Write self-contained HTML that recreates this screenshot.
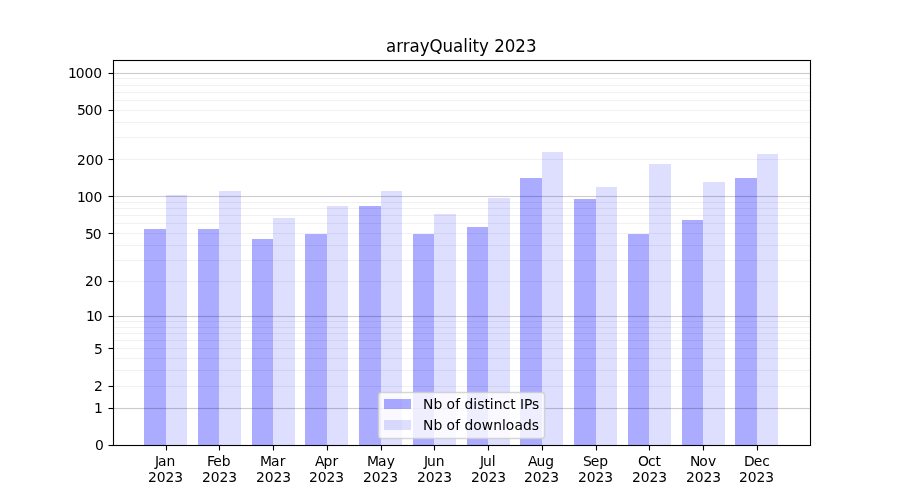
<!DOCTYPE html>
<html lang="en">
<head>
<meta charset="utf-8">
<title>arrayQuality 2023</title>
<style>
html,body{margin:0;padding:0;background:#fff;}
body{width:900px;height:500px;overflow:hidden;}
svg{display:block;}
text{font-family:"DejaVu Sans","Liberation Sans",sans-serif;fill:#000;}
.t{font-size:13.889px;}
.h{font-size:16.667px;}
.c{shape-rendering:crispEdges;}
</style>
</head>
<body>
<svg width="900" height="500" viewBox="0 0 900 500">
<rect x="0" y="0" width="900" height="500" fill="#ffffff"/>
<g class="c">
<rect x="144" y="229" width="22" height="216" fill="#ababff"/>
<rect x="166" y="195" width="21" height="250" fill="#dedeff"/>
<rect x="198" y="229" width="21" height="216" fill="#ababff"/>
<rect x="219" y="191" width="22" height="254" fill="#dedeff"/>
<rect x="252" y="239" width="21" height="206" fill="#ababff"/>
<rect x="273" y="218" width="22" height="227" fill="#dedeff"/>
<rect x="305" y="234" width="22" height="211" fill="#ababff"/>
<rect x="327" y="206" width="21" height="239" fill="#dedeff"/>
<rect x="359" y="206" width="22" height="239" fill="#ababff"/>
<rect x="381" y="191" width="21" height="254" fill="#dedeff"/>
<rect x="413" y="234" width="21" height="211" fill="#ababff"/>
<rect x="434" y="214" width="22" height="231" fill="#dedeff"/>
<rect x="467" y="227" width="21" height="218" fill="#ababff"/>
<rect x="488" y="198" width="22" height="247" fill="#dedeff"/>
<rect x="520" y="178" width="22" height="267" fill="#ababff"/>
<rect x="542" y="152" width="21" height="293" fill="#dedeff"/>
<rect x="574" y="199" width="22" height="246" fill="#ababff"/>
<rect x="596" y="187" width="21" height="258" fill="#dedeff"/>
<rect x="628" y="234" width="21" height="211" fill="#ababff"/>
<rect x="649" y="164" width="22" height="281" fill="#dedeff"/>
<rect x="682" y="220" width="21" height="225" fill="#ababff"/>
<rect x="703" y="182" width="22" height="263" fill="#dedeff"/>
<rect x="735" y="178" width="22" height="267" fill="#ababff"/>
<rect x="757" y="154" width="21" height="291" fill="#dedeff"/>
</g>
<g class="c">
<rect x="113" y="386" width="697" height="1" fill="#000" fill-opacity="0.055"/>
<rect x="113" y="370" width="697" height="1" fill="#000" fill-opacity="0.055"/>
<rect x="113" y="358" width="697" height="1" fill="#000" fill-opacity="0.055"/>
<rect x="113" y="348" width="697" height="1" fill="#000" fill-opacity="0.055"/>
<rect x="113" y="340" width="697" height="1" fill="#000" fill-opacity="0.055"/>
<rect x="113" y="333" width="697" height="1" fill="#000" fill-opacity="0.055"/>
<rect x="113" y="327" width="697" height="1" fill="#000" fill-opacity="0.055"/>
<rect x="113" y="321" width="697" height="1" fill="#000" fill-opacity="0.055"/>
<rect x="113" y="281" width="697" height="1" fill="#000" fill-opacity="0.055"/>
<rect x="113" y="260" width="697" height="1" fill="#000" fill-opacity="0.055"/>
<rect x="113" y="245" width="697" height="1" fill="#000" fill-opacity="0.055"/>
<rect x="113" y="233" width="697" height="1" fill="#000" fill-opacity="0.055"/>
<rect x="113" y="223" width="697" height="1" fill="#000" fill-opacity="0.055"/>
<rect x="113" y="215" width="697" height="1" fill="#000" fill-opacity="0.055"/>
<rect x="113" y="208" width="697" height="1" fill="#000" fill-opacity="0.055"/>
<rect x="113" y="202" width="697" height="1" fill="#000" fill-opacity="0.055"/>
<rect x="113" y="159" width="697" height="1" fill="#000" fill-opacity="0.055"/>
<rect x="113" y="137" width="697" height="1" fill="#000" fill-opacity="0.055"/>
<rect x="113" y="122" width="697" height="1" fill="#000" fill-opacity="0.055"/>
<rect x="113" y="110" width="697" height="1" fill="#000" fill-opacity="0.055"/>
<rect x="113" y="100" width="697" height="1" fill="#000" fill-opacity="0.055"/>
<rect x="113" y="92" width="697" height="1" fill="#000" fill-opacity="0.055"/>
<rect x="113" y="85" width="697" height="1" fill="#000" fill-opacity="0.055"/>
<rect x="113" y="78" width="697" height="1" fill="#000" fill-opacity="0.055"/>
<rect x="113" y="407" width="697" height="3" fill="#000" fill-opacity="0.011"/>
<rect x="113" y="408" width="697" height="1" fill="#000" fill-opacity="0.19"/>
<rect x="113" y="315" width="697" height="3" fill="#000" fill-opacity="0.011"/>
<rect x="113" y="316" width="697" height="1" fill="#000" fill-opacity="0.19"/>
<rect x="113" y="195" width="697" height="3" fill="#000" fill-opacity="0.011"/>
<rect x="113" y="196" width="697" height="1" fill="#000" fill-opacity="0.19"/>
<rect x="113" y="72" width="697" height="3" fill="#000" fill-opacity="0.011"/>
<rect x="113" y="73" width="697" height="1" fill="#000" fill-opacity="0.19"/>
</g>
<g class="c">
<rect x="165" y="446" width="3" height="4" fill="#000" fill-opacity="0.055"/>
<rect x="166" y="446" width="1" height="4" fill="#000"/>
<rect x="166" y="450" width="1" height="1" fill="#000" fill-opacity="0.5"/>
<rect x="218" y="446" width="3" height="4" fill="#000" fill-opacity="0.055"/>
<rect x="219" y="446" width="1" height="4" fill="#000"/>
<rect x="219" y="450" width="1" height="1" fill="#000" fill-opacity="0.5"/>
<rect x="272" y="446" width="3" height="4" fill="#000" fill-opacity="0.055"/>
<rect x="273" y="446" width="1" height="4" fill="#000"/>
<rect x="273" y="450" width="1" height="1" fill="#000" fill-opacity="0.5"/>
<rect x="326" y="446" width="3" height="4" fill="#000" fill-opacity="0.055"/>
<rect x="327" y="446" width="1" height="4" fill="#000"/>
<rect x="327" y="450" width="1" height="1" fill="#000" fill-opacity="0.5"/>
<rect x="380" y="446" width="3" height="4" fill="#000" fill-opacity="0.055"/>
<rect x="381" y="446" width="1" height="4" fill="#000"/>
<rect x="381" y="450" width="1" height="1" fill="#000" fill-opacity="0.5"/>
<rect x="433" y="446" width="3" height="4" fill="#000" fill-opacity="0.055"/>
<rect x="434" y="446" width="1" height="4" fill="#000"/>
<rect x="434" y="450" width="1" height="1" fill="#000" fill-opacity="0.5"/>
<rect x="487" y="446" width="3" height="4" fill="#000" fill-opacity="0.055"/>
<rect x="488" y="446" width="1" height="4" fill="#000"/>
<rect x="488" y="450" width="1" height="1" fill="#000" fill-opacity="0.5"/>
<rect x="541" y="446" width="3" height="4" fill="#000" fill-opacity="0.055"/>
<rect x="542" y="446" width="1" height="4" fill="#000"/>
<rect x="542" y="450" width="1" height="1" fill="#000" fill-opacity="0.5"/>
<rect x="595" y="446" width="3" height="4" fill="#000" fill-opacity="0.055"/>
<rect x="596" y="446" width="1" height="4" fill="#000"/>
<rect x="596" y="450" width="1" height="1" fill="#000" fill-opacity="0.5"/>
<rect x="648" y="446" width="3" height="4" fill="#000" fill-opacity="0.055"/>
<rect x="649" y="446" width="1" height="4" fill="#000"/>
<rect x="649" y="450" width="1" height="1" fill="#000" fill-opacity="0.5"/>
<rect x="702" y="446" width="3" height="4" fill="#000" fill-opacity="0.055"/>
<rect x="703" y="446" width="1" height="4" fill="#000"/>
<rect x="703" y="450" width="1" height="1" fill="#000" fill-opacity="0.5"/>
<rect x="756" y="446" width="3" height="4" fill="#000" fill-opacity="0.055"/>
<rect x="757" y="446" width="1" height="4" fill="#000"/>
<rect x="757" y="450" width="1" height="1" fill="#000" fill-opacity="0.5"/>
<rect x="109" y="444" width="4" height="3" fill="#000" fill-opacity="0.055"/>
<rect x="109" y="445" width="4" height="1" fill="#000"/>
<rect x="108" y="445" width="1" height="1" fill="#000" fill-opacity="0.5"/>
<rect x="109" y="407" width="4" height="3" fill="#000" fill-opacity="0.055"/>
<rect x="109" y="408" width="4" height="1" fill="#000"/>
<rect x="108" y="408" width="1" height="1" fill="#000" fill-opacity="0.5"/>
<rect x="109" y="385" width="4" height="3" fill="#000" fill-opacity="0.055"/>
<rect x="109" y="386" width="4" height="1" fill="#000"/>
<rect x="108" y="386" width="1" height="1" fill="#000" fill-opacity="0.5"/>
<rect x="109" y="347" width="4" height="3" fill="#000" fill-opacity="0.055"/>
<rect x="109" y="348" width="4" height="1" fill="#000"/>
<rect x="108" y="348" width="1" height="1" fill="#000" fill-opacity="0.5"/>
<rect x="109" y="315" width="4" height="3" fill="#000" fill-opacity="0.055"/>
<rect x="109" y="316" width="4" height="1" fill="#000"/>
<rect x="108" y="316" width="1" height="1" fill="#000" fill-opacity="0.5"/>
<rect x="109" y="280" width="4" height="3" fill="#000" fill-opacity="0.055"/>
<rect x="109" y="281" width="4" height="1" fill="#000"/>
<rect x="108" y="281" width="1" height="1" fill="#000" fill-opacity="0.5"/>
<rect x="109" y="232" width="4" height="3" fill="#000" fill-opacity="0.055"/>
<rect x="109" y="233" width="4" height="1" fill="#000"/>
<rect x="108" y="233" width="1" height="1" fill="#000" fill-opacity="0.5"/>
<rect x="109" y="195" width="4" height="3" fill="#000" fill-opacity="0.055"/>
<rect x="109" y="196" width="4" height="1" fill="#000"/>
<rect x="108" y="196" width="1" height="1" fill="#000" fill-opacity="0.5"/>
<rect x="109" y="158" width="4" height="3" fill="#000" fill-opacity="0.055"/>
<rect x="109" y="159" width="4" height="1" fill="#000"/>
<rect x="108" y="159" width="1" height="1" fill="#000" fill-opacity="0.5"/>
<rect x="109" y="109" width="4" height="3" fill="#000" fill-opacity="0.055"/>
<rect x="109" y="110" width="4" height="1" fill="#000"/>
<rect x="108" y="110" width="1" height="1" fill="#000" fill-opacity="0.5"/>
<rect x="109" y="72" width="4" height="3" fill="#000" fill-opacity="0.055"/>
<rect x="109" y="73" width="4" height="1" fill="#000"/>
<rect x="108" y="73" width="1" height="1" fill="#000" fill-opacity="0.5"/>
</g>
<g class="c">
<rect x="112" y="59" width="700" height="3" fill="#000" fill-opacity="0.055"/>
<rect x="112" y="444" width="700" height="3" fill="#000" fill-opacity="0.055"/>
<rect x="112" y="62" width="3" height="382" fill="#000" fill-opacity="0.055"/>
<rect x="809" y="62" width="3" height="382" fill="#000" fill-opacity="0.055"/>
<rect x="113" y="60" width="698" height="1" fill="#000"/>
<rect x="113" y="445" width="698" height="1" fill="#000"/>
<rect x="113" y="60" width="1" height="386" fill="#000"/>
<rect x="810" y="60" width="1" height="386" fill="#000"/>
</g>
<text class="h" transform="translate(0,51.6) scale(1,1.0725)" x="385.98 396.16 402.7 409.54 419.71 429.55 442.62 452.91 463.34 467.96 472.58 479.1 488.93 494.21 504.78 515.35 525.93">arrayQuality 2023</text>
<text class="t" transform="translate(0,450.3) scale(1,1.045)" x="95.01">0</text>
<text class="t" transform="translate(0,413.3) scale(1,1.025)" x="93.9">1</text>
<text class="t" transform="translate(0,391.3) scale(1,1.02)" x="93.96">2</text>
<text class="t" transform="translate(0,353.8) scale(1,1.025)" x="93.95">5</text>
<text class="t" transform="translate(0,321.3) scale(1,1.05)" x="86.13 93.81">10</text>
<text class="t" transform="translate(0,286.3) scale(1,1.045)" x="84.97 93.86">20</text>
<text class="t" transform="translate(0,238.8) scale(1,1.045)" x="84.97 92.86">50</text>
<text class="t" transform="translate(0,201.8) scale(1,1.02)" x="76.91 84.86 93.56">100</text>
<text class="t" transform="translate(0,164.8) scale(1,1.045)" x="76.98 85.74 94.51">200</text>
<text class="t" transform="translate(0,115.3) scale(1,1.045)" x="76.98 84.74 93.51">500</text>
<text class="t" transform="translate(0,78.3) scale(1,1.0725)" x="67.96 75.77 84.6 93.18">1000</text>
<text class="t" transform="translate(0,466.2) scale(1,1.02)" x="154.89 158.02 166.61">Jan</text>
<text class="t" transform="translate(0,481.8) scale(1,1.0425)" x="147.95 156.73 165.52 174.3">2023</text>
<text class="t" transform="translate(0,466.2) scale(1,0.99)" x="206.88 213.21 221.83">Feb</text>
<text class="t" transform="translate(0,481.8) scale(1,1.0425)" x="201.95 210.73 219.52 228.3">2023</text>
<text class="t" transform="translate(0,466.2) scale(1,1.0025)" x="260.05 271.04 279.81">Mar</text>
<text class="t" transform="translate(0,481.8) scale(1,1.0425)" x="255.95 264.73 273.52 282.3">2023</text>
<text class="t" transform="translate(0,466.2) scale(1,0.9575)" x="314.96 323.55 332.47">Apr</text>
<text class="t" transform="translate(0,481.8) scale(1,1.0425)" x="308.95 317.73 326.52 335.3">2023</text>
<text class="t" transform="translate(0,466.2) scale(1,1.02)" x="366.91 378.07 386.87">May</text>
<text class="t" transform="translate(0,481.8) scale(1,1.0425)" x="362.95 371.73 380.52 389.3">2023</text>
<text class="t" transform="translate(0,466.2) scale(1,1.0112)" x="423.95 427.01 435.78">Jun</text>
<text class="t" transform="translate(0,481.8) scale(1,1.0425)" x="416.95 425.73 434.52 443.3">2023</text>
<text class="t" transform="translate(0,466.2) scale(1,1.0325)" x="480.01 483.09 491.86">Jul</text>
<text class="t" transform="translate(0,481.8) scale(1,1.0425)" x="470.95 479.73 488.52 497.3">2023</text>
<text class="t" transform="translate(0,466.2) scale(1,0.99)" x="528.13 536.56 545.31">Aug</text>
<text class="t" transform="translate(0,481.8) scale(1,1.0425)" x="523.95 532.73 541.52 550.3">2023</text>
<text class="t" transform="translate(0,466.2) scale(1,1.005)" x="583.13 590.84 599.31">Sep</text>
<text class="t" transform="translate(0,481.8) scale(1,1.0425)" x="577.95 586.73 595.52 604.3">2023</text>
<text class="t" transform="translate(0,466.2) scale(1,1.01)" x="637.89 648 655.58">Oct</text>
<text class="t" transform="translate(0,481.8) scale(1,1.0425)" x="631.95 640.73 649.52 658.3">2023</text>
<text class="t" transform="translate(0,466.2) scale(1,1.0325)" x="689.89 699.27 708.01">Nov</text>
<text class="t" transform="translate(0,481.8) scale(1,1.0425)" x="685.95 694.73 703.52 712.3">2023</text>
<text class="t" transform="translate(0,466.2) scale(1,1.0125)" x="743.9 753.86 762.22">Dec</text>
<text class="t" transform="translate(0,481.8) scale(1,1.0425)" x="738.95 747.73 756.52 765.3">2023</text>
<path d="M381.503,392.4 L541.547,392.4 Q544.525,392.4 544.525,395.378 L544.525,435.478 Q544.525,438.456 541.547,438.456 L381.503,438.456 Q378.525,438.456 378.525,435.478 L378.525,395.378 Q378.525,392.4 381.503,392.4 Z" fill="#ffffff" fill-opacity="0.8" stroke="#cccccc" stroke-opacity="0.8" stroke-width="1.464"/>
<g class="c">
<rect x="384" y="399" width="27" height="10" fill="#0000ff" fill-opacity="0.33"/>
<rect x="384" y="420" width="27" height="10" fill="#0000ff" fill-opacity="0.13"/>
</g>
<text class="t" transform="translate(0,408.56) scale(1,0.9925)" x="423.07 433.45 442.26 446.43 455.19 460.06 464.48 473.3 477.15 484.4 489.84 493.69 502.5 510.14 515.58 519.99 524.09 531.97">Nb of distinct IPs</text>
<text class="t" transform="translate(0,429.5) scale(1,1.0425)" x="423.01 433.4 442.24 446.39 455.15 460.06 464.48 473.3 481.81 493.19 502 505.86 514.62 522.9 531.73">Nb of downloads</text>
</svg>
</body>
</html>
